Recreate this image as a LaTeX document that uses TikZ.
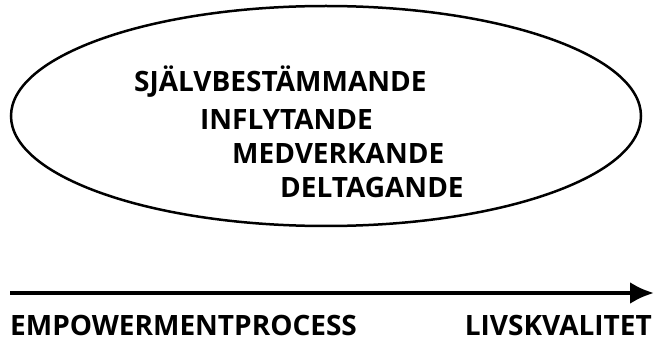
\documentclass[tikz,border=0pt]{standalone}
\usepackage{fontspec}
\setmainfont{Open Sans}
\usepackage{tikz}
\usetikzlibrary{shapes.geometric, arrows.meta}

\begin{document}
\begin{tikzpicture}[x=1pt, y=-1pt]

\useasboundingbox (0,0) rectangle (654,342);

\pgfmathsetmacro\x{134}

% the oval
\node[draw, ellipse, minimum width=630pt, minimum height=220pt, line width=2.5pt, inner sep=0pt] (oval) at (326,116) {};

% words inside the oval
\node[anchor=west, inner sep=0pt, font=\fontsize{28}{30}\selectfont\bfseries] (sjalv) at (\x, 82) {SJÄLVBESTÄMMANDE};
\pgfmathsetmacro\x{\x+66}
\node[anchor=west, inner sep=0pt, font=\fontsize{28}{30}\selectfont\bfseries] (infly) at (\x, 119) {INFLYTANDE};
\pgfmathsetmacro\x{\x+32}
\node[anchor=west, inner sep=0pt, font=\fontsize{28}{30}\selectfont\bfseries] (medv) at (\x, 153) {MEDVERKANDE};
\pgfmathsetmacro\x{\x+48}
\node[anchor=west, inner sep=0pt, font=\fontsize{28}{30}\selectfont\bfseries] (delta) at (\x, 187) {DELTAGANDE};

% the arrow
\coordinate (start) at (10,293);
\coordinate (end) at (654,293);
\draw[-{Latex[length=24pt, width=22pt]}, line width=4pt] (start) -- (end);

\node[anchor=west, inner sep=0pt, font=\fontsize{28}{30}\selectfont\bfseries] (empow) at (10, 325) {EMPOWERMENTPROCESS};
\node[anchor=east, inner sep=0pt, font=\fontsize{28}{30}\selectfont\bfseries] (livs) at (652, 325) {LIVSKVALITET};

\end{tikzpicture}
\end{document}
